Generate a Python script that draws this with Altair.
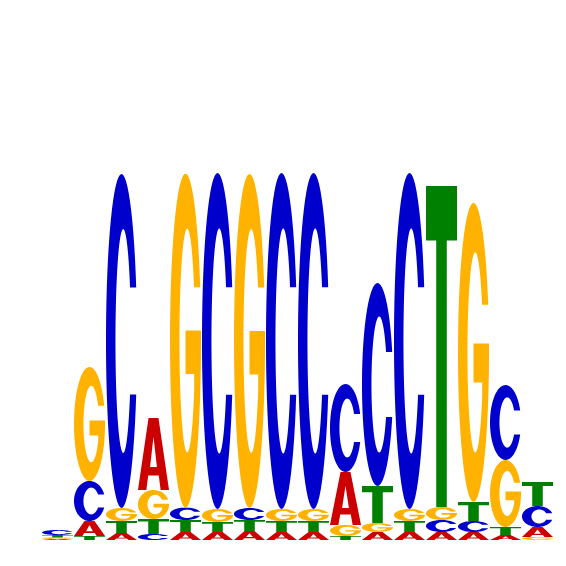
import numpy as np
import pandas as pd
import altair as alt

# sequence logo, heights in bits
positions = list(range(1, 17))
letters = ['A', 'C', 'G', 'T']
A = [0.005, 0.075, 0.035, 0.36, 0.04, 0.04, 0.045, 0.04, 0.04, 0.265, 0.04, 0.04, 0.04, 0.04, 0.025, 0.05]
C = [0.025, 0.20, 1.67, 0.03, 0.062, 1.68, 0.06, 1.68, 1.68, 0.44, 1.015, 1.68, 0.06, 0.055, 0.375, 0.105]
G = [0.0075, 0.57, 0.065, 0.145, 1.67, 0.065, 1.67, 0.06, 0.06, 0.055, 0.045, 0.06, 0.065, 1.495, 0.335, 0.015]
T = [0.0125, 0.02, 0.06, 0.075, 0.06, 0.05, 0.055, 0.055, 0.055, 0.02, 0.185, 0.055, 1.605, 0.095, 0.04, 0.12]
heights = {'A': A, 'C': C, 'G': G, 'T': T}
colors = ['#CC0000', '#0000CC', '#FFB300', '#008000']


# glyph outlines in a unit box (y up)
def arc(cx, cy, rx, ry, a0, a1, n=60):
    t = np.radians(np.linspace(a0, a1, n))
    return list(zip(cx + rx*np.cos(t), cy + ry*np.sin(t)))

ICX, IRX, IRY = 0.555, 0.25, 0.335
a_out = np.degrees(np.arcsin(0.16/0.5))
a_in = np.degrees(np.arcsin(0.16/IRY))

glyph_C = arc(0.5, 0.5, 0.5, 0.5, a_out, 360 - a_out) + arc(ICX, 0.5, IRX, IRY, -a_in, -360 + a_in)

t_stem = -np.degrees(np.arccos((0.78 - ICX)/IRX))
glyph_G = (arc(0.5, 0.5, 0.5, 0.5, a_out, 360)
           + [(1.0, 0.53), (0.5, 0.53), (0.5, 0.40), (0.78, 0.40)]
           + arc(ICX, 0.5, IRX, IRY, t_stem, -360 + a_in))

glyph_A = [(0, 0), (0.34, 1), (0.66, 1), (1, 0), (0.73, 0), (0.67, 0.2), (0.33, 0.2), (0.27, 0)]
hole_A = [(0.39, 0.32), (0.61, 0.32), (0.5, 0.74)]

glyph_T = [(0, 1), (1, 1), (1, 0.83), (0.67, 0.83), (0.67, 0), (0.33, 0), (0.33, 0.83), (0, 0.83)]

glyphs = {'A': glyph_A, 'C': glyph_C, 'G': glyph_G, 'T': glyph_T}

body_rows = []
hole_rows = []
for i, p in enumerate(positions):
    col = sorted(letters, key=lambda l: heights[l][i])
    base = 0.0
    for l in col:
        h = heights[l][i]
        sid = f'{p}{l}'
        for k, (gx, gy) in enumerate(glyphs[l]):
            body_rows.append([sid, k, p - 0.485 + 0.97*gx, base + h*gy, l])
        if l == 'A':
            for k, (gx, gy) in enumerate(hole_A):
                hole_rows.append([sid, k, p - 0.485 + 0.97*gx, base + h*gy, l])
        base += h

body_df = pd.DataFrame(body_rows, columns=['shape', 'k', 'x', 'y', 'letter'])
hole_df = pd.DataFrame(hole_rows, columns=['shape', 'k', 'x', 'y', 'letter'])

xs = alt.Scale(domain=[0.5, 16.5], nice=False, zero=False)
ys = alt.Scale(domain=[0, 2], nice=False)

body = alt.Chart(body_df).mark_line(filled=True).encode(
    x=alt.X('x:Q', scale=xs, axis=None),
    y=alt.Y('y:Q', scale=ys, axis=None),
    detail='shape:N',
    order='k:Q',
    color=alt.Color('letter:N', scale=alt.Scale(domain=letters, range=colors), legend=None),
)

holes = alt.Chart(hole_df).mark_line(filled=True, color='white').encode(
    x=alt.X('x:Q', scale=xs, axis=None),
    y=alt.Y('y:Q', scale=ys, axis=None),
    detail='shape:N',
    order='k:Q',
)

chart = (body + holes).properties(
    width=512, height=400,
    padding={'left': 33.5, 'top': 132, 'right': 0, 'bottom': 0},
    autosize='none',
).configure_view(strokeWidth=0)

chart.save("out.html", embed_options={"renderer": "svg", "actions": False})
